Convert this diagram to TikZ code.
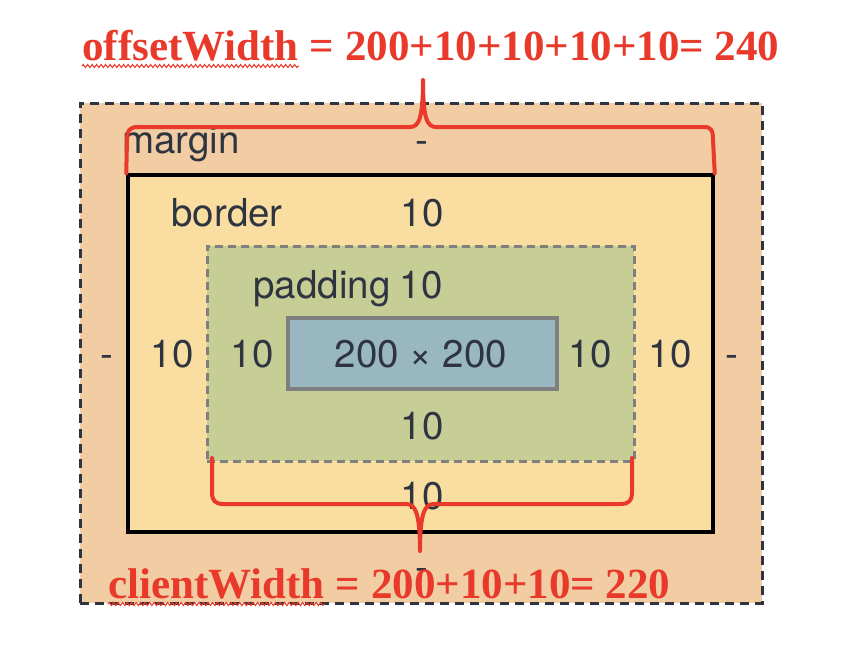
\documentclass[tikz,border=0pt]{standalone}
\usepackage{fontspec}
\setmainfont{Liberation Serif}
\setsansfont{TeX Gyre Heros}
\usetikzlibrary{positioning, decorations.pathmorphing}

\definecolor{marginfill}{RGB}{242,205,164}
\definecolor{borderfill}{RGB}{249,221,161}
\definecolor{paddingfill}{RGB}{198,205,149}
\definecolor{contentfill}{RGB}{152,183,193}
\definecolor{boxgray}{RGB}{127,127,127}
\definecolor{boxtext}{RGB}{46,52,64}
\definecolor{noteRed}{RGB}{232,57,42}

\tikzset{
    boxlbl/.style={anchor=base, inner sep=0pt, text=boxtext,
        font=\sffamily\fontsize{38.5}{42}\selectfont},
    note/.style={anchor=base west, inner sep=0pt, text=noteRed,
        font=\bfseries\fontsize{43}{47}\selectfont},
    brace/.style={draw=noteRed, line width=4pt, line cap=round, line join=round},
    squiggle/.style={draw=noteRed, line width=1pt,
        decorate, decoration={zigzag, amplitude=1.6pt, segment length=4.5pt}}
}

\begin{document}
\begin{tikzpicture}[x=1pt, y=-1pt]
    \useasboundingbox[fill=white] (0,0) rectangle (860,648);

    % Boxes
    \node (marginbox) [draw=boxtext, fill=marginfill, line width=3pt,
        dash pattern=on 9pt off 6pt, minimum width=682pt, minimum height=500pt]
        at (421,353) {};
    \node (borderbox) [draw=black, fill=borderfill, line width=3.5pt,
        minimum width=585pt, minimum height=357pt] at (420.5,353.5) {};
    \node (paddingbox) [draw=boxgray, fill=paddingfill, line width=3pt,
        dash pattern=on 8pt off 5pt, minimum width=427pt, minimum height=215pt]
        at (420.5,353.5) {};
    \node (contentbox) [draw=boxgray, fill=contentfill, line width=3.5pt,
        minimum width=269pt, minimum height=71pt] at (422.5,353.5) {};

    % Labels
    \node (marginlbl) [boxlbl] at (181,153) {margin};
    \node (margintop) [boxlbl] at (422,153) {-};
    \node (borderlbl) [boxlbl] at (227,226) {border};
    \node (bordertop) [boxlbl] at (422,226) {10};
    \node (paddinglbl) [boxlbl] at (322,298) {padding};
    \node (paddingtop) [boxlbl] at (421,298) {10};
    \node (marginleft) [boxlbl] at (107,367) {-};
    \node (borderleft) [boxlbl] at (172,367) {10};
    \node (paddingleft) [boxlbl] at (252,367) {10};
    \node (contentlbl) [boxlbl] at (421,367) {200 × 200};
    \node (paddingright) [boxlbl] at (590,367) {10};
    \node (borderright) [boxlbl] at (670,367) {10};
    \node (marginright) [boxlbl] at (732,367) {-};
    \node (paddingbottom) [boxlbl] at (422,439) {10};
    \node (borderbottom) [boxlbl] at (422,509) {10};
    \node (marginbottom) [boxlbl] at (422,580) {-};

    % Braces
    \coordinate (offsettip) at (423,80);
    \coordinate (clienttip) at (420,551);
    \draw[brace] (borderbox.north west) -- (127,140)
        .. controls (127,130) and (130,127) .. (138,127) -- (410,127)
        .. controls (419,127) and (423,118) .. (offsettip)
        .. controls (423,118) and (427,127) .. (436,127) -- (704,127)
        .. controls (711,127) and (713,130) .. (713,140) -- (borderbox.north east);
    \draw[brace] (212,458) -- (212,492)
        .. controls (212,501) and (215,504) .. (224,504) -- (406,504)
        .. controls (415,504) and (420,512) .. (clienttip)
        .. controls (420,512) and (425,504) .. (434,504) -- (620,504)
        .. controls (629,504) and (632,501) .. (632,492) -- (632,458);

    % Sums
    \node (offsetlbl) [note] at (82,60) {offsetWidth};
    \node (offsetsum) [note] at (offsetlbl.base east) {\ = 200+10+10+10+10= 240};
    \draw[squiggle] ([yshift=-6pt]offsetlbl.base west) -- ([yshift=-6pt]offsetlbl.base east);

    \node (clientlbl) [note] at (108,598) {clientWidth};
    \node (clientsum) [note] at (clientlbl.base east) {\ = 200+10+10= 220};
    \draw[squiggle] ([yshift=-6pt]clientlbl.base west) -- ([yshift=-6pt]clientlbl.base east);
\end{tikzpicture}
\end{document}
